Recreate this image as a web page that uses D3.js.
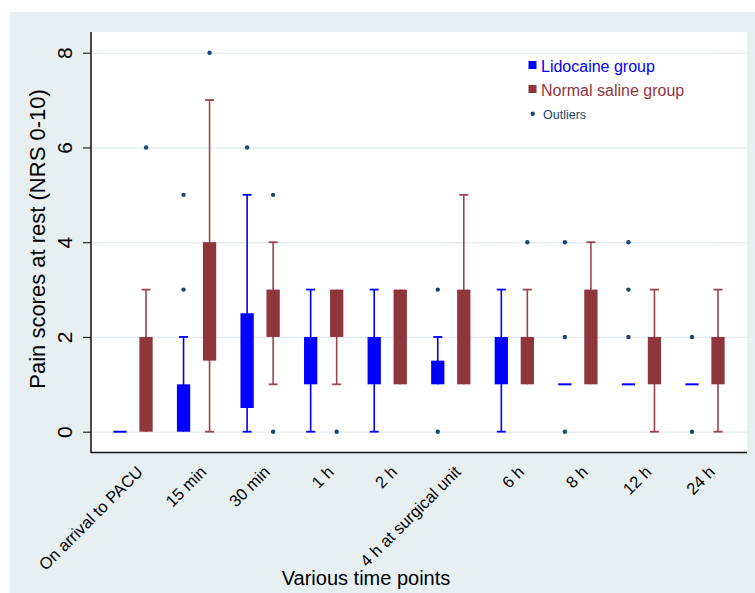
<!DOCTYPE html>
<html>
<head>
<meta charset="utf-8">
<script src="https://cdn.jsdelivr.net/npm/d3@7"></script>
<style>
	body { margin: 0; background: #fff; }
	svg { display: block; font-family: "Liberation Sans", Arial, sans-serif; }
</style>
</head>
<body>
<svg id="chart"></svg>
<script>
// time points on the x axis
var timePoints = ["On arrival to PACU", "15 min", "30 min", "1 h", "2 h",
	"4 h at surgical unit", "6 h", "8 h", "12 h", "24 h"];
var groups = ["Lidocaine group", "Normal saline group"];
var yTicks = [0, 2, 4, 6, 8];

// Lidocaine group
var lidoQ1 = [0, 0, 0.5, 1, 1, 1, 1, 1, 1, 1];
var lidoQ3 = [0, 1, 2.5, 2, 2, 1.5, 2, 1, 1, 1];
var lidoLo = [0, 0, 0, 0, 0, 1, 0, 1, 1, 1];
var lidoHi = [0, 2, 5, 3, 3, 2, 3, 1, 1, 1];
var lidoOut = [[], [3, 5], [6], [], [], [3, 0], [], [4, 2, 0], [4, 3, 2], [2, 0]];

// Normal saline group
var salQ1 = [0, 1.5, 2, 2, 1, 1, 1, 1, 1, 1];
var salQ3 = [2, 4, 3, 3, 3, 3, 2, 3, 2, 2];
var salLo = [0, 0, 1, 1, 1, 1, 1, 1, 0, 0];
var salHi = [3, 7, 4, 3, 3, 5, 3, 4, 3, 3];
var salOut = [[6], [8], [5, 0], [0], [], [], [4], [], [], []];

var width = 755,
	height = 593;

var colors = {
	"Lidocaine group": "#0000ff",
	"Normal saline group": "#8f353c",
};
var whiskerColors = {
	"Lidocaine group": "#0000ff",
	"Normal saline group": "#9c454b",
};
var dotColor = "#1a476f";

var plot = { left: 91, right: 747, top: 32, bottom: 453 };

var svg = d3.select("#chart").attr("width", width).attr("height", height);

// outer graph region
svg.append("rect")
	.attr("x", 10).attr("y", 12)
	.attr("width", width - 10).attr("height", height - 12)
	.attr("fill", "#e8eff1");

svg.append("rect")
	.attr("x", plot.left).attr("y", plot.top)
	.attr("width", plot.right - plot.left).attr("height", plot.bottom - plot.top)
	.attr("fill", "#fff");

var y = d3.scaleLinear().domain([0, 8]).range([431.7, 52.7]);

var x = d3.scaleBand()
	.domain(timePoints)
	.range([plot.left, plot.right])
	.paddingInner(0)
	.paddingOuter(0.161);

var sub = d3.scaleBand()
	.domain(groups)
	.range([0, x.bandwidth()])
	.paddingInner(0.49)
	.paddingOuter(0.466);

// grid
svg.append("g")
	.attr("class", "grid")
	.attr("transform", "translate(" + plot.left + ",0)")
	.call(d3.axisLeft(y).tickValues(yTicks).tickSize(-(plot.right - plot.left)).tickFormat(""))
	.call(function (g) {
		g.select(".domain").remove();
		g.selectAll("line").attr("stroke", "#e6edf1").attr("stroke-width", 1.6);
	});

// build rows from the arrays
var rows = [];
timePoints.forEach(function (t, i) {
	rows.push({ t: t, g: groups[0], q1: lidoQ1[i], q3: lidoQ3[i], lo: lidoLo[i], hi: lidoHi[i], out: lidoOut[i] });
	rows.push({ t: t, g: groups[1], q1: salQ1[i], q3: salQ3[i], lo: salLo[i], hi: salHi[i], out: salOut[i] });
});

function cx(d) {
	return x(d.t) + sub(d.g) + sub.bandwidth() / 2;
}

var capW = 9;

var box = svg.append("g").attr("class", "boxes")
	.selectAll("g")
	.data(rows)
	.enter()
	.append("g");

// whiskers
box.append("line")
	.attr("x1", cx).attr("x2", cx)
	.attr("y1", function (d) { return y(d.lo); })
	.attr("y2", function (d) { return y(d.hi); })
	.attr("stroke", function (d) { return whiskerColors[d.g]; })
	.attr("stroke-width", 1.6);

// caps only where the whisker leaves the box
box.selectAll(".cap")
	.data(function (d) {
		var c = [];
		if (d.lo < d.q1) c.push({ d: d, v: d.lo });
		if (d.hi > d.q3) c.push({ d: d, v: d.hi });
		return c;
	})
	.enter()
	.append("line")
	.attr("class", "cap")
	.attr("x1", function (c) { return cx(c.d) - capW / 2; })
	.attr("x2", function (c) { return cx(c.d) + capW / 2; })
	.attr("y1", function (c) { return y(c.v); })
	.attr("y2", function (c) { return y(c.v); })
	.attr("stroke", function (c) { return whiskerColors[c.d.g]; })
	.attr("stroke-width", 1.8);

// boxes (flat ones drawn as a thin bar)
box.append("rect")
	.attr("x", function (d) { return x(d.t) + sub(d.g); })
	.attr("width", sub.bandwidth())
	.attr("y", function (d) {
		var h = y(d.q1) - y(d.q3);
		return h < 2 ? y(d.q1) - 1 : y(d.q3);
	})
	.attr("height", function (d) {
		return Math.max(2, y(d.q1) - y(d.q3));
	})
	.attr("fill", function (d) { return colors[d.g]; });

// outliers
box.selectAll(".out")
	.data(function (d) {
		return d.out.map(function (v) { return { d: d, v: v }; });
	})
	.enter()
	.append("circle")
	.attr("class", "out")
	.attr("cx", function (o) { return cx(o.d); })
	.attr("cy", function (o) { return y(o.v); })
	.attr("r", 2.2)
	.attr("fill", dotColor);

// y axis
svg.append("g")
	.attr("transform", "translate(" + plot.left + ",0)")
	.call(d3.axisLeft(y).tickValues(yTicks).tickSize(8).tickSizeOuter(0).tickFormat(d3.format("d")))
	.call(function (g) {
		g.select(".domain").remove();
		g.selectAll("line").attr("stroke", "#222").attr("stroke-width", 1.2);
		g.selectAll("text")
			.attr("transform", "rotate(-90)")
			.attr("x", 0)
			.attr("y", -19)
			.attr("dy", 0)
			.attr("text-anchor", "middle")
			.attr("fill", "#000")
			.style("font-size", "21px")
			.style("font-family", "Liberation Sans, Arial, sans-serif");
	});

// x axis labels
svg.append("g")
	.attr("transform", "translate(0," + plot.bottom + ")")
	.call(d3.axisBottom(x).tickSize(0))
	.call(function (g) {
		g.select(".domain").remove();
		g.selectAll("text")
			.attr("transform", "translate(11,20) rotate(-45)")
			.attr("x", 0)
			.attr("y", 0)
			.attr("dy", 0)
			.attr("text-anchor", "end")
			.attr("fill", "#000")
			.style("font-size", "16.5px")
			.style("font-family", "Liberation Sans, Arial, sans-serif");
	});

// axis lines
svg.append("line")
	.attr("x1", plot.left).attr("x2", plot.left)
	.attr("y1", plot.top).attr("y2", plot.bottom)
	.attr("stroke", "#111").attr("stroke-width", 1.5);
svg.append("line")
	.attr("x1", plot.left).attr("x2", plot.right)
	.attr("y1", plot.bottom - 0.5).attr("y2", plot.bottom - 0.5)
	.attr("stroke", "#111").attr("stroke-width", 1.5);

// axis titles
svg.append("text")
	.attr("transform", "translate(45,239) rotate(-90)")
	.attr("text-anchor", "middle")
	.style("font-size", "22px")
	.text("Pain scores at rest (NRS 0-10)");

svg.append("text")
	.attr("x", 366)
	.attr("y", 585)
	.attr("text-anchor", "middle")
	.style("font-size", "20px")
	.text("Various time points");

// legend
var legend = svg.append("g").attr("class", "legend");
var legendY = [72, 96];
groups.forEach(function (g, i) {
	legend.append("rect")
		.attr("x", 528.5).attr("y", legendY[i] - 11)
		.attr("width", 8).attr("height", 8)
		.attr("fill", colors[g]);
	legend.append("text")
		.attr("x", 541).attr("y", legendY[i])
		.attr("fill", colors[g])
		.style("font-size", "16px")
		.text(g);
});
legend.append("circle")
	.attr("cx", 532.7).attr("cy", 113.7).attr("r", 2.2)
	.attr("fill", dotColor);
legend.append("text")
	.attr("x", 543).attr("y", 118.5)
	.attr("fill", dotColor)
	.style("font-size", "12.5px")
	.text("Outliers");
</script>
</body>
</html>
